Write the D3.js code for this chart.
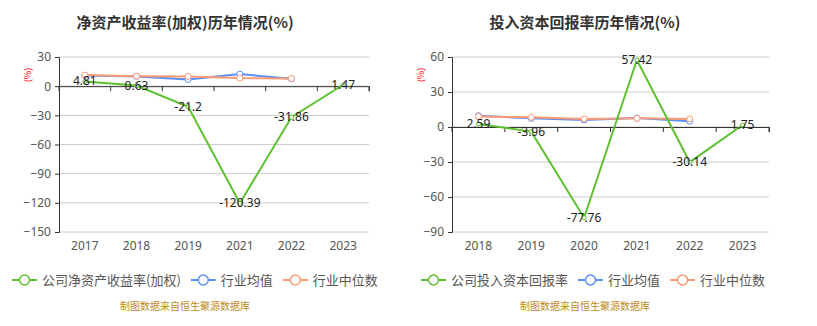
<!DOCTYPE html>
<html>
<head>
<meta charset="utf-8">
<script src="https://cdn.jsdelivr.net/npm/d3@7"></script>
<style>
  body { margin: 0; background: #fff; }
  svg { font-family: "Noto Sans CJK SC", "Microsoft YaHei", sans-serif; }
</style>
</head>
<body>
<svg id="chart" width="817" height="326"></svg>
<script>
// left chart data
const roeYears = ["2017", "2018", "2019", "2021", "2022", "2023"];
const roeCompany = [4.81, 0.63, -21.2, -120.39, -31.86, 1.47];
const roeIndustryAvg = [11.0, 10.0, 6.9, 12.4, 7.6, null];
const roeIndustryMedian = [11.4, 10.3, 10.0, 8.3, 7.9, null];
const roeTicks = [30, 0, -30, -60, -90, -120, -150];

// right chart data
const roicYears = ["2018", "2019", "2020", "2021", "2022", "2023"];
const roicCompany = [2.59, -3.96, -77.76, 57.42, -30.14, 1.75];
const roicIndustryAvg = [9.7, 7.4, 6.0, 7.7, 4.9, null];
const roicIndustryMedian = [9.1, 8.3, 6.9, 7.4, 6.9, null];
const roicTicks = [60, 30, 0, -30, -60, -90];

const green = "#5cc12f", blue = "#5b8ff9", orange = "#fb9a73";

const svg = d3.select("#chart");

function drawChart(g, opts) {
    const x = d3.scaleBand().domain(opts.years).range([opts.left, opts.right]);
    const y = d3.scaleLinear().domain([opts.ticks[opts.ticks.length - 1], opts.ticks[0]])
        .range([opts.bottom, opts.top]);

    // title
    g.append("text")
        .attr("x", opts.titleX)
        .attr("y", 28)
        .attr("text-anchor", "middle")
        .style("font-size", "15px")
        .style("font-weight", "bold")
        .style("fill", "#333")
        .text(opts.title);

    // unit label
    g.append("text")
        .attr("transform", "translate(" + (opts.left - 28) + "," + (opts.top + 18) + ") rotate(-90)")
        .attr("text-anchor", "middle")
        .style("font-size", "9px")
        .style("fill", "red")
        .text("(%)");

    // grid lines
    g.selectAll(".grid").data(opts.ticks).enter().append("line")
        .attr("x1", opts.left).attr("x2", opts.right)
        .attr("y1", d => y(d)).attr("y2", d => y(d))
        .style("stroke", "#ccc");

    // y axis
    const yAxis = g.append("g")
        .attr("transform", "translate(" + opts.left + ",0)")
        .call(d3.axisLeft(y).tickValues(opts.ticks).tickSize(4).tickPadding(4));
    yAxis.select(".domain").style("stroke", "#333");
    yAxis.selectAll(".tick line").style("stroke", "#333");
    yAxis.selectAll("text").style("font-size", "12px").style("fill", "#555")
        .style("font-family", "'Noto Sans', sans-serif");

    // x axis line at zero, labels at bottom
    const xAxis = g.append("g")
        .attr("transform", "translate(0," + y(0) + ")")
        .call(d3.axisBottom(x).tickSize(5).tickFormat(""));
    xAxis.select(".domain").style("stroke", "#333");
    xAxis.selectAll(".tick").remove();
    const edges = opts.years.map(d => x(d)).concat([opts.right]);
    xAxis.selectAll(".edge").data(edges).enter().append("line")
        .attr("x1", d => d).attr("x2", d => d)
        .attr("y1", 0).attr("y2", 5)
        .style("stroke", "#333");

    g.selectAll(".xlabel").data(opts.years).enter().append("text")
        .attr("x", d => x(d) + x.bandwidth() / 2)
        .attr("y", opts.bottom + 18)
        .attr("text-anchor", "middle")
        .style("font-size", "12px")
        .style("fill", "#555")
        .style("font-family", "'Noto Sans', sans-serif")
        .text(d => d);

    const line = d3.line()
        .defined(d => d.v !== null)
        .x(d => x(d.k) + x.bandwidth() / 2)
        .y(d => y(d.v));

    const series = [
        { vals: opts.avg, color: blue, r: 3 },
        { vals: opts.median, color: orange, r: 3 },
        { vals: opts.company, color: green, r: 2 }
    ];
    // draw industry lines first, then company line
    series.forEach(s => {
        const pts = opts.years.map((k, i) => ({ k: k, v: s.vals[i] }));
        g.append("path").datum(pts)
            .attr("d", line)
            .style("fill", "none")
            .style("stroke", s.color)
            .style("stroke-width", 2);
        g.selectAll(null).data(pts.filter(p => p.v !== null)).enter().append("circle")
            .attr("cx", p => x(p.k) + x.bandwidth() / 2)
            .attr("cy", p => y(p.v))
            .attr("r", s.r)
            .style("fill", "#fff")
            .style("stroke", s.color)
            .style("stroke-width", 1);
    });

    // company labels
    g.selectAll(".lbl").data(opts.company).enter().append("text")
        .attr("x", (d, i) => x(opts.years[i]) + x.bandwidth() / 2)
        .attr("y", d => y(d) + 4)
        .attr("text-anchor", "middle")
        .style("font-size", "12px")
        .style("fill", "#222")
        .style("font-family", "'Noto Sans', sans-serif")
        .text(d => d);

    // legend
    const legend = g.append("g").attr("transform", "translate(0,280)");
    let lx = opts.legendX;
    opts.legendNames.forEach((name, i) => {
        const c = [green, blue, orange][i];
        legend.append("line")
            .attr("x1", lx).attr("x2", lx + 25)
            .attr("y1", 0).attr("y2", 0)
            .style("stroke", c).style("stroke-width", 2);
        legend.append("circle")
            .attr("cx", lx + 12.5).attr("cy", 0).attr("r", 5)
            .style("fill", "#fff").style("stroke", c).style("stroke-width", 1.5);
        const t = legend.append("text")
            .attr("x", lx + 30).attr("y", 5)
            .style("font-size", "13px")
            .style("fill", "#555")
            .text(name);
        lx += 30 + t.node().getComputedTextLength() + 10;
    });

    // footer
    g.append("text")
        .attr("x", opts.titleX)
        .attr("y", 310)
        .attr("text-anchor", "middle")
        .style("font-size", "10px")
        .style("fill", "#c08a20")
        .text("制图数据来自恒生聚源数据库");
}

drawChart(svg.append("g"), {
    title: "净资产收益率(加权)历年情况(%)",
    titleX: 185,
    years: roeYears, company: roeCompany, avg: roeIndustryAvg, median: roeIndustryMedian,
    ticks: roeTicks,
    left: 59, right: 369, top: 57, bottom: 232,
    legendX: 12,
    legendNames: ["公司净资产收益率(加权)", "行业均值", "行业中位数"]
});

drawChart(svg.append("g"), {
    title: "投入资本回报率历年情况(%)",
    titleX: 585,
    years: roicYears, company: roicCompany, avg: roicIndustryAvg, median: roicIndustryMedian,
    ticks: roicTicks,
    left: 452, right: 769, top: 57, bottom: 232,
    legendX: 421,
    legendNames: ["公司投入资本回报率", "行业均值", "行业中位数"]
});
</script>
</body>
</html>
